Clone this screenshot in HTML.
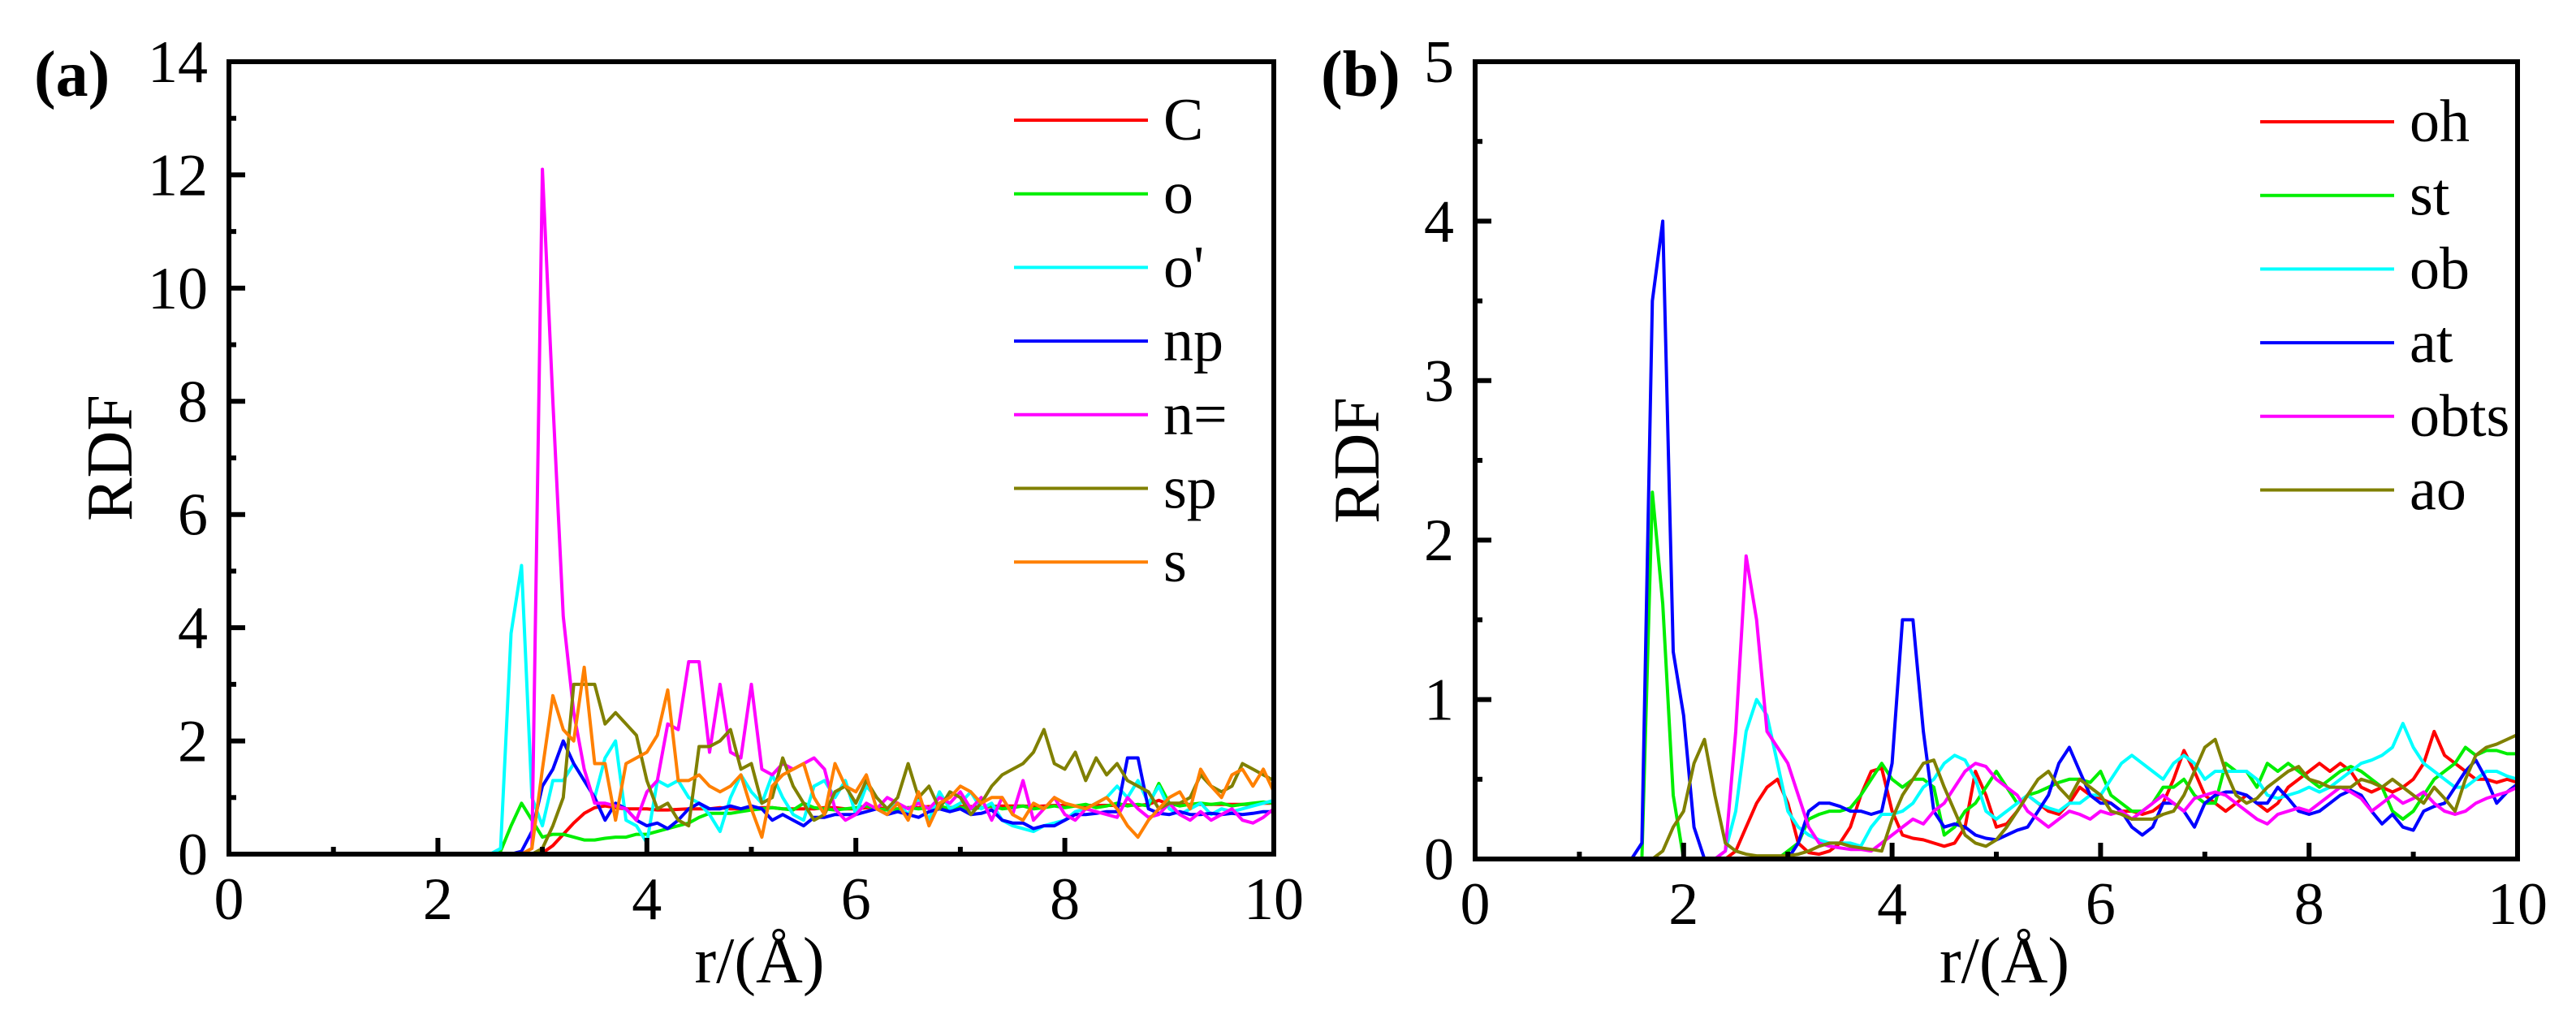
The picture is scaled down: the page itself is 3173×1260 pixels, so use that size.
<!DOCTYPE html>
<html><head><meta charset="utf-8"><style>
html,body{margin:0;padding:0;background:#fff}
svg{display:block;font-family:"Liberation Serif",serif}
</style></head><body>
<svg id="chart" width="3173" height="1260" viewBox="0 0 3173 1260" xmlns="http://www.w3.org/2000/svg">
<rect width="3173" height="1260" fill="#fff"/>
</svg>
<script>
const xTicks = [0,2,4,6,8,10];
const yTicksA = [0,2,4,6,8,10,12,14];
const yTicksB = [0,1,2,3,4,5];
const rStartA = 2.5, rStartB = 1.4, rStep = 0.1;
const seriesNamesA = ["C","o","o'","np","n=","sp","s"];
const seriesNamesB = ["oh","st","ob","at","obts","ao"];
const colorsA = ["#ff0000","#00ee00","#00ffff","#0000ff","#ff00ff","#808000","#ff8000"];
const colorsB = ["#ff0000","#00ee00","#00ffff","#0000ff","#ff00ff","#808000"];
const valC = [0,0,0,0,0,0.02,0.15,0.35,0.55,0.72,0.82,0.85,0.82,0.8,0.8,0.8,0.78,0.78,0.79,0.8,0.8,0.8,0.82,0.8,0.8,0.8,0.82,0.82,0.8,0.8,0.8,0.8,0.82,0.82,0.8,0.8,0.82,0.82,0.8,0.8,0.82,0.82,0.84,0.82,0.82,0.84,0.84,0.82,0.84,0.85,0.85,0.85,0.84,0.85,0.86,0.86,0.85,0.86,0.86,0.86,0.86,0.87,0.86,0.88,0.95,0.88,0.87,0.88,0.88,0.88,0.88,0.88,0.88,0.88,0.9,0.9];
const valO = [0,0.05,0.5,0.9,0.6,0.3,0.35,0.35,0.3,0.25,0.25,0.28,0.3,0.3,0.35,0.35,0.4,0.45,0.5,0.55,0.65,0.72,0.72,0.72,0.75,0.78,0.8,0.82,0.8,0.78,0.9,0.82,0.8,0.78,0.8,0.82,0.85,0.8,0.78,0.8,0.82,0.8,0.82,0.85,0.8,0.82,0.8,0.82,0.85,0.8,0.82,0.85,0.8,0.82,0.85,0.82,0.85,0.88,0.82,0.85,0.9,0.85,0.88,0.85,1.25,0.9,0.85,0.88,0.9,0.88,0.9,0.85,0.88,0.9,0.92,0.9];
const valOp = [0,0.1,3.9,5.1,1.0,0.5,1.3,1.3,1.6,1.3,1.0,1.7,2.0,0.6,0.5,0.2,1.3,1.2,1.3,1.0,0.9,0.7,0.4,1.0,1.4,1.1,0.9,1.4,1.0,0.7,0.6,1.2,1.3,1.0,1.3,0.7,1.2,1.0,0.8,0.9,0.7,1.0,0.6,1.1,0.8,0.9,1.1,0.8,0.9,0.6,0.5,0.45,0.4,0.5,0.55,0.6,0.75,0.8,0.9,1.0,1.2,1.0,1.3,0.9,1.2,0.8,0.7,0.8,0.9,0.7,0.8,0.75,0.8,0.85,0.9,0.95];
const valNp = [0,0,0,0.05,0.4,1.2,1.5,2.0,1.6,1.3,1.0,0.6,0.9,0.8,0.6,0.5,0.55,0.45,0.6,0.8,0.9,0.8,0.8,0.85,0.8,0.85,0.8,0.6,0.7,0.6,0.5,0.65,0.65,0.7,0.7,0.7,0.75,0.8,0.7,0.75,0.7,0.65,0.75,0.8,0.75,0.8,0.7,0.72,0.78,0.6,0.55,0.55,0.45,0.5,0.5,0.6,0.7,0.7,0.72,0.75,0.75,1.7,1.7,0.8,0.72,0.7,0.75,0.7,0.7,0.72,0.7,0.72,0.7,0.72,0.75,0.75];
const valNeq = [0,0,0,0,0.1,12.1,8.0,4.2,2.5,1.5,0.9,0.9,0.85,0.8,0.6,1.1,1.3,2.3,2.2,3.4,3.4,1.8,3.0,1.8,1.7,3.0,1.5,1.4,1.6,1.5,1.6,1.7,1.5,0.8,0.6,0.7,0.9,0.8,1.0,0.9,0.8,0.9,0.8,1.0,0.9,1.1,0.8,1.0,0.6,1.0,0.7,1.3,0.6,0.8,1.0,0.7,0.6,0.8,0.75,0.7,0.65,1.0,0.8,0.65,0.7,0.9,0.7,0.6,0.75,0.6,0.7,0.8,0.6,0.55,0.65,0.8];
const valSp = [0,0,0,0,0,0.1,0.5,1.0,3.0,3.0,3.0,2.3,2.5,2.3,2.1,1.3,0.8,0.9,0.6,0.5,1.9,1.9,2.0,2.2,1.5,1.6,0.9,1.0,1.7,1.2,0.9,0.6,0.7,1.1,1.2,0.9,1.3,1.0,0.8,1.0,1.6,1.0,1.2,0.8,1.1,1.0,0.7,0.9,1.2,1.4,1.5,1.6,1.8,2.2,1.6,1.5,1.8,1.3,1.7,1.4,1.6,1.3,1.2,1.1,0.8,0.9,0.9,1.0,1.4,1.2,1.1,1.2,1.6,1.5,1.4,1.3];
const valS = [0,0,0,0,0.1,1.5,2.8,2.2,2.0,3.3,1.6,1.6,0.6,1.6,1.7,1.8,2.1,2.9,1.3,1.3,1.4,1.2,1.1,1.2,1.4,0.8,0.3,1.2,1.4,1.5,1.6,1.0,0.7,1.6,1.2,1.1,1.4,0.8,0.7,0.9,0.6,1.1,0.5,0.9,1.0,1.2,1.1,0.9,1.0,1.0,0.7,0.6,0.9,0.8,1.0,0.9,0.85,0.8,0.9,1.0,0.8,0.5,0.3,0.6,0.8,1.0,1.1,0.8,1.5,1.2,1.0,1.4,1.5,1.2,1.5,1.1];
const valOh = [0,0,0,0,0,0,0,0,0,0,0,0.05,0.2,0.35,0.45,0.5,0.35,0.1,0.04,0.03,0.05,0.1,0.2,0.4,0.55,0.57,0.3,0.15,0.13,0.12,0.1,0.08,0.1,0.2,0.55,0.4,0.2,0.22,0.3,0.4,0.35,0.3,0.28,0.35,0.45,0.4,0.38,0.35,0.3,0.3,0.28,0.3,0.35,0.5,0.68,0.55,0.4,0.35,0.3,0.35,0.4,0.35,0.3,0.35,0.45,0.5,0.55,0.6,0.55,0.6,0.55,0.45,0.42,0.45,0.42,0.45,0.5,0.6,0.8,0.65,0.6,0.55,0.5,0.5,0.48,0.5,0.48];
const valSt = [0,0,0,2.3,1.6,0.4,0,0,0,0,0,0,0,0,0,0,0.05,0.1,0.25,0.28,0.3,0.3,0.32,0.4,0.5,0.6,0.5,0.45,0.5,0.5,0.45,0.15,0.2,0.3,0.35,0.45,0.55,0.45,0.35,0.4,0.42,0.45,0.48,0.5,0.5,0.48,0.55,0.4,0.35,0.3,0.3,0.35,0.45,0.45,0.5,0.4,0.35,0.35,0.6,0.55,0.55,0.45,0.6,0.55,0.6,0.55,0.5,0.45,0.5,0.55,0.58,0.55,0.5,0.45,0.3,0.25,0.3,0.4,0.5,0.55,0.6,0.7,0.65,0.68,0.68,0.66,0.66];
const valOb = [0,0,0,0,0,0,0,0,0,0,0.05,0.3,0.8,1.0,0.9,0.6,0.3,0.2,0.15,0.12,0.1,0.1,0.1,0.08,0.2,0.28,0.28,0.3,0.35,0.45,0.5,0.6,0.65,0.62,0.5,0.3,0.25,0.3,0.35,0.4,0.35,0.32,0.3,0.35,0.35,0.4,0.4,0.5,0.6,0.65,0.6,0.55,0.5,0.6,0.65,0.6,0.5,0.55,0.55,0.55,0.55,0.5,0.4,0.38,0.4,0.42,0.45,0.42,0.45,0.5,0.55,0.6,0.62,0.65,0.7,0.85,0.7,0.6,0.55,0.5,0.45,0.45,0.5,0.55,0.55,0.52,0.5];
const valAt = [0,0,0.1,3.5,4.0,1.3,0.9,0.2,0,0,0,0,0,0,0,0,0,0.1,0.3,0.35,0.35,0.33,0.3,0.3,0.28,0.3,0.6,1.5,1.5,0.8,0.3,0.2,0.22,0.2,0.15,0.13,0.12,0.15,0.18,0.2,0.3,0.4,0.6,0.7,0.55,0.4,0.35,0.35,0.3,0.2,0.15,0.2,0.35,0.35,0.3,0.2,0.35,0.4,0.42,0.42,0.4,0.35,0.35,0.45,0.38,0.3,0.28,0.3,0.35,0.4,0.43,0.4,0.3,0.22,0.28,0.2,0.18,0.3,0.33,0.35,0.45,0.55,0.62,0.5,0.35,0.42,0.47];
const valObts = [0,0,0,0,0,0,0,0,0,0,0.05,0.8,1.9,1.5,0.8,0.7,0.6,0.4,0.2,0.1,0.08,0.07,0.06,0.06,0.05,0.1,0.15,0.2,0.25,0.22,0.3,0.35,0.45,0.55,0.6,0.58,0.5,0.45,0.4,0.3,0.25,0.2,0.25,0.3,0.28,0.25,0.3,0.28,0.3,0.25,0.3,0.35,0.4,0.35,0.3,0.38,0.4,0.42,0.4,0.35,0.3,0.25,0.22,0.28,0.3,0.32,0.3,0.35,0.4,0.45,0.42,0.38,0.3,0.35,0.4,0.35,0.38,0.42,0.35,0.3,0.28,0.3,0.35,0.38,0.4,0.42,0.45];
const valAo = [0,0,0,0,0.05,0.2,0.3,0.6,0.75,0.4,0.1,0.05,0.03,0.02,0.02,0.02,0.02,0.03,0.05,0.08,0.1,0.1,0.08,0.07,0.06,0.05,0.25,0.4,0.5,0.6,0.62,0.45,0.3,0.15,0.1,0.08,0.12,0.2,0.3,0.4,0.5,0.55,0.45,0.38,0.5,0.45,0.4,0.3,0.28,0.25,0.25,0.25,0.28,0.3,0.4,0.55,0.7,0.75,0.55,0.4,0.35,0.38,0.45,0.5,0.55,0.58,0.5,0.48,0.45,0.45,0.45,0.5,0.48,0.45,0.5,0.45,0.4,0.35,0.45,0.38,0.3,0.5,0.65,0.7,0.72,0.75,0.78];

const NS="http://www.w3.org/2000/svg";
const svg=document.getElementById('chart');
function mk(tag,attrs,parent){const e=document.createElementNS(NS,tag);for(const k in attrs)e.setAttribute(k,attrs[k]);(parent||svg).appendChild(e);return e;}

function panel(cfg){
  const g=mk('g',{});
  
  
  const sx=v=>cfg.x0+(v-0)/10*(cfg.x1-cfg.x0);
  const sy=v=>cfg.y1-v/cfg.ymax*(cfg.y1-cfg.y0);
  // series
  cfg.series.forEach((vals,si)=>{
    let d='';
    vals.forEach((v,i)=>{const r=cfg.rStart+i*rStep; if(r>10.001)return; d+=(i?'L':'M')+sx(r).toFixed(1)+','+sy(v).toFixed(1);});
    const p=mk('path',{d:d,fill:'none',stroke:cfg.colors[si],'stroke-width':4,'stroke-linejoin':'round'},g);
    
    
  });
  // frame
  const fr=mk('rect',{x:cfg.x0,y:cfg.y0,width:cfg.x1-cfg.x0,height:cfg.y1-cfg.y0,fill:'none',stroke:'#000','stroke-width':6},g);
  
  
  // x ticks
  for(let v=0;v<=10;v+=1){
    const major=v%2===0;
    mk('line',{x1:sx(v),x2:sx(v),y1:cfg.y1,y2:cfg.y1-(major?20:9),stroke:'#000','stroke-width':6},g);
  }
  xTicks.forEach(v=>{
    const t=mk('text',{x:sx(v),y:cfg.y1+80,'font-size':74,'text-anchor':'middle'},g);
    t.textContent=v;
    
    
  });
  // y ticks
  for(let v=0;v<=cfg.ymax+1e-9;v+=cfg.minor){
    const major=Math.abs(v/cfg.major-Math.round(v/cfg.major))<1e-6;
    mk('line',{x1:cfg.x0,x2:cfg.x0+(major?20:9),y1:sy(v),y2:sy(v),stroke:'#000','stroke-width':6},g);
  }
  cfg.yTicks.forEach(v=>{
    const t=mk('text',{x:cfg.x0-26,y:sy(v)+25,'font-size':74,'text-anchor':'end'},g);
    t.textContent=v;
    
    
  });
  const yt=mk('text',{x:0,y:0,'font-size':80,'text-anchor':'middle',transform:`translate(${cfg.ytx},${(cfg.y0+cfg.y1)/2}) rotate(-90)`},g);
  yt.textContent='RDF';
  
  
  const xt=mk('text',{x:(cfg.x0+cfg.x1)/2+10,y:1210,'font-size':80,'text-anchor':'middle'},g);
  xt.textContent='r/(Å)';
  
  
  const pl=mk('text',{x:cfg.plx,y:118,'font-size':80,'font-weight':'bold'},g);
  pl.textContent=cfg.panelLabel;
  
  
  // legend
  cfg.names.forEach((n,i)=>{
    const ly=cfg.legY+i*90.7;
    const lg=mk('g',{},g);
    
    
    mk('line',{x1:cfg.legX,x2:cfg.legX+165,y1:ly,y2:ly,stroke:cfg.colors[i],'stroke-width':4},lg);
    const t=mk('text',{x:cfg.legX+184,y:ly+24,'font-size':74},lg);
    t.textContent=n;
  });
}
panel({name:'panel-a',x0:282,x1:1569,y0:76,y1:1052,ymax:14,major:2,minor:1,yTicks:yTicksA,rStart:rStartA,
  series:[valC,valO,valOp,valNp,valNeq,valSp,valS],names:seriesNamesA,colors:colorsA,ytx:162,plx:42,panelLabel:'(a)',legX:1249,legY:148});
panel({name:'panel-b',x0:1817,x1:3101,y0:76,y1:1058,ymax:5,major:1,minor:0.5,yTicks:yTicksB,rStart:rStartB,
  series:[valOh,valSt,valOb,valAt,valObts,valAo],names:seriesNamesB,colors:colorsB,ytx:1698,plx:1627,panelLabel:'(b)',legX:2784,legY:150});
</script>
</body></html>
